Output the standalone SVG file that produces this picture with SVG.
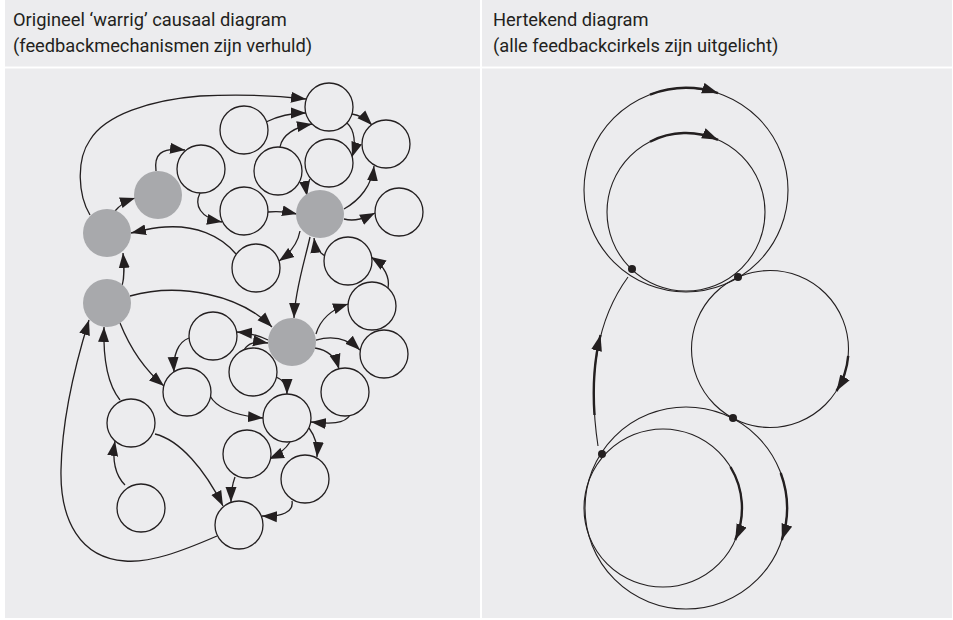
<svg xmlns="http://www.w3.org/2000/svg" width="953" height="620" viewBox="0 0 953 620">
<style>
.panel{fill:#ececee}
.hd{font-family:Roboto,"Open Sans","Liberation Sans",sans-serif;font-size:18.3px;fill:#231f20}
.n circle{fill:#ececee;stroke:#231f20;stroke-width:1.3}
.g circle{fill:#a8a9ac;stroke:none}
.c path{fill:none;stroke:#231f20;stroke-width:1.3;marker-end:url(#ah)}
.r circle,.r path{fill:none;stroke:#231f20;stroke-width:1.1}
.thick path{fill:none;stroke:#231f20;stroke-width:2.4;marker-end:url(#ahR)}
.dot{fill:#231f20}
</style>
<defs>
<marker id="ah" markerUnits="userSpaceOnUse" markerWidth="16" markerHeight="12" refX="15" refY="6" orient="auto">
<path d="M0,0.5 L15,6 L0,11.5 z" fill="#231f20"/>
</marker>
<marker id="ahR" markerUnits="userSpaceOnUse" markerWidth="17" markerHeight="12" refX="16" refY="6" orient="auto">
<path d="M0,0.5 L16,6 L0,11.5 z" fill="#231f20"/>
</marker>
</defs>
<rect width="953" height="620" fill="#ffffff"/>
<rect class="panel" x="5" y="0" width="475" height="66.5"/>
<rect class="panel" x="482" y="0" width="470" height="66.5"/>
<rect class="panel" x="5" y="68.5" width="475" height="549.5"/>
<rect class="panel" x="482" y="68.5" width="470" height="549.5"/>
<text class="hd" x="13" y="26">Origineel ‘warrig’ causaal diagram</text>
<text class="hd" x="13" y="52">(feedbackmechanismen zijn verhuld)</text>
<text class="hd" x="493" y="26">Hertekend diagram</text>
<text class="hd" x="493" y="52">(alle feedbackcirkels zijn uitgelicht)</text>

<g id="connectors" class="c">
<path d="M 90 215 C 78 195, 76 160, 90 140 C 105 115, 150 100, 200 96 C 240 94, 280 96, 306 99"/>
<path d="M 266 122 C 280 115, 295 113, 306 113"/>
<path d="M 280 147 C 282 135, 295 127, 312 124"/>
<path d="M 352 114 C 360 115, 366 119, 372 125"/>
<path d="M 347 123 C 355 130, 356 145, 352 157"/>
<path d="M 310 179 C 306 185, 306 190, 307 196"/>
<path d="M 268 212 C 280 211, 288 212, 297 214"/>
<path d="M 344 209 C 360 200, 372 185, 374 166"/>
<path d="M 344 219 C 355 222, 365 218, 375 213"/>
<path d="M 300 231 C 298 242, 292 252, 279 261"/>
<path d="M 310 237 C 305 260, 295 290, 294 318"/>
<path d="M 325 256 C 318 252, 315 246, 314 238"/>
<path d="M 388 288 C 390 278, 385 266, 371 257"/>
<path d="M 316 334 C 320 320, 330 310, 348 304"/>
<path d="M 316 340 C 330 336, 345 336, 360 350"/>
<path d="M 315 348 C 328 350, 336 358, 339 369"/>
<path d="M 130 296 C 180 282, 240 295, 272 327"/>
<path d="M 268 340 C 260 336, 250 333, 237 332"/>
<path d="M 244 350 C 248 343, 255 341, 268 343"/>
<path d="M 276 377 C 284 380, 287 386, 287 394"/>
<path d="M 210 396 C 218 410, 240 416, 263 418"/>
<path d="M 350 415 C 345 424, 330 424, 311 422"/>
<path d="M 309 428 C 315 436, 318 446, 317 457"/>
<path d="M 290 442 C 285 450, 278 455, 269 459"/>
<path d="M 235 477 C 232 485, 231 493, 231 502"/>
<path d="M 292 501 C 294 512, 282 517, 262 516"/>
<path d="M 155 434 C 180 440, 205 470, 223 506"/>
<path d="M 125 485 C 115 475, 112 460, 115 441"/>
<path d="M 120 400 C 108 385, 103 360, 104 327"/>
<path d="M 217 536 C 180 552, 150 563, 125 561 C 80 558, 60 520, 61 470 C 62 420, 75 365, 89 320"/>
<path d="M 122 286 C 125 276, 124 265, 123 253"/>
<path d="M 115 211 C 120 205, 126 201, 135 198"/>
<path d="M 156 171 C 154 155, 160 147, 185 150"/>
<path d="M 200 193 C 194 205, 200 218, 222 222"/>
<path d="M 236 254 C 220 235, 195 225, 165 227 C 150 228, 140 231, 131 233"/>
<path d="M 189 338 C 178 342, 173 355, 174 372"/>
<path d="M 120 323 C 130 348, 145 370, 164 386"/>
</g>

<g id="A" class="n"><circle cx="329" cy="107" r="24"/></g>
<g id="B" class="n"><circle cx="244" cy="130" r="24"/></g>
<g id="C" class="n"><circle cx="386" cy="144" r="24"/></g>
<g id="D" class="n"><circle cx="329" cy="163" r="24"/></g>
<g id="E" class="n"><circle cx="278" cy="171" r="24"/></g>
<g id="F" class="n"><circle cx="244" cy="211" r="24"/></g>
<g id="H" class="n"><circle cx="399" cy="212" r="24"/></g>
<g id="I" class="n"><circle cx="201" cy="169" r="24"/></g>
<g id="J" class="n"><circle cx="256" cy="268" r="24"/></g>
<g id="K" class="n"><circle cx="348" cy="261" r="24"/></g>
<g id="L" class="n"><circle cx="372" cy="306" r="24"/></g>
<g id="M" class="n"><circle cx="384" cy="354" r="24"/></g>
<g id="N" class="n"><circle cx="213" cy="336" r="24"/></g>
<g id="O" class="n"><circle cx="253" cy="372" r="24"/></g>
<g id="P" class="n"><circle cx="345" cy="392" r="24"/></g>
<g id="Q" class="n"><circle cx="287" cy="418" r="24"/></g>
<g id="R" class="n"><circle cx="187" cy="392" r="24"/></g>
<g id="S" class="n"><circle cx="131" cy="423" r="24"/></g>
<g id="T" class="n"><circle cx="247" cy="454" r="24"/></g>
<g id="U" class="n"><circle cx="305" cy="479" r="24"/></g>
<g id="V" class="n"><circle cx="141" cy="508" r="24"/></g>
<g id="W" class="n"><circle cx="239" cy="525" r="24"/></g>
<g id="G1" class="g"><circle cx="158" cy="195" r="24"/></g>
<g id="G2" class="g"><circle cx="107" cy="233" r="24"/></g>
<g id="G3" class="g"><circle cx="107" cy="303" r="24"/></g>
<g id="G4" class="g"><circle cx="320" cy="214" r="24"/></g>
<g id="G5" class="g"><circle cx="292" cy="342" r="24"/></g>

<g id="loop-top-outer" class="r"><circle cx="686" cy="190" r="102"/></g>
<g id="loop-top-inner" class="r"><circle cx="686" cy="212" r="79"/></g>
<g id="loop-middle" class="r"><circle cx="770" cy="349" r="78.5"/></g>
<g id="loop-bottom-outer" class="r"><circle cx="686" cy="508" r="101"/></g>
<g id="loop-bottom-inner" class="r"><circle cx="663" cy="508" r="79"/></g>
<g id="link" class="r"><path d="M 628 277 Q 582 340 598 446"/></g>
<g id="loop-arrows" class="thick">
<path d="M 650 94.6 A 102 102 0 0 1 718 93.1"/>
<path d="M 650 141.7 A 79 79 0 0 1 718 139.8"/>
<path d="M 848.2 355.8 A 78.5 78.5 0 0 1 836.5 391"/>
<path d="M 730.5 467 A 79 79 0 0 1 735.2 540"/>
<path d="M 780.7 473 A 101 101 0 0 1 781.8 540"/>
<path d="M 594.5 415 Q 591.5 370.2 600.5 335"/>
</g>
<g id="junctions">
<circle class="dot" cx="632" cy="269" r="4"/>
<circle class="dot" cx="738" cy="277" r="4"/>
<circle class="dot" cx="733" cy="418" r="4"/>
<circle class="dot" cx="602" cy="454" r="4"/>
</g>
</svg>
